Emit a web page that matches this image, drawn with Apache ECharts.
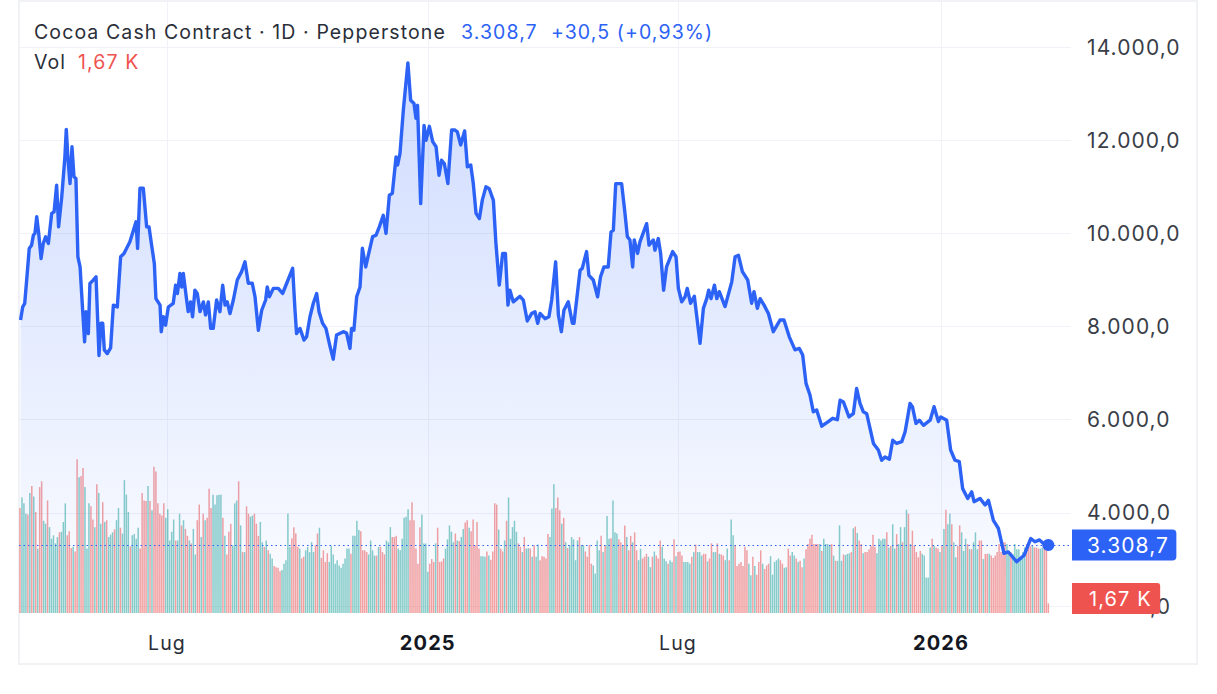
<!DOCTYPE html>
<html>
<head>
<meta charset="utf-8">
<title>Cocoa Cash Contract</title>
<script src="https://cdn.jsdelivr.net/npm/echarts@6/dist/echarts.min.js"></script>
<style>
  html, body { margin: 0; padding: 0; background: #fff; }
  #chart { width: 1217px; height: 694px; }
  /* the reference font is tracked wider than anything installed */
  #chart text { letter-spacing: 1.1px; }
</style>
</head>
<body>
<div id="chart"></div>
<script>
// x is the trading session number, 0 = first bar of the history
const lineSessions = [
  0.3,1.4,2.4,3.4,4.7,5.9,6.8,7.6,8.5,9.5,10.7,11.8,13,14.4,16.1,17.3,18.6,19.6,21.2,22.8,23.5,24.4,25.4,26.4,27.4,28.4,29.4,30.5,31.8,32.8,
  33.5,34.7,35.5,37.2,38.6,40.1,41.1,42,42.8,44.3,46,47.4,49.4,51.1,52.8,55.8,58.9,59.7,60.9,62.6,64.3,65.5,66.8,68.2,69,71.1,71.7,72.8,73.9,75.3,
  77.8,79,79.9,81.2,82.1,82.9,84.6,85.4,86.6,87.6,88.8,90,91.4,93.1,94.2,95.6,96.8,98.1,99.8,101.5,102.9,104.1,105.2,106.6,108.3,110.3,112.5,114.2,115.9,117.9,
  119.3,121,122.7,124.7,125.5,126.6,128.6,131.1,133.3,135.4,138.4,139.6,140.4,142.1,144.2,145.5,147.2,148.9,150.6,151.8,153.6,155.3,157.4,159,160.7,164.1,165.8,167.5,168.3,169.5,
  170.9,172.6,173.8,175.5,176.8,179,180.7,182.4,184.4,185.8,187.5,189,190.9,191.7,192.9,194.6,196.9,198.3,200,201,201.8,203.4,205.1,206.1,207.8,209.5,211.2,212.7,214,215.4,
  217.2,219.1,220.8,222,223.7,225.7,227.1,228.8,230.1,231.5,233.2,234.7,236.5,238.2,240.3,241.6,243.3,245,246.4,247.7,248.7,250.4,253.8,255.5,257.5,259.7,261.4,262.8,264,266.5,
  268.5,269.9,271.9,273.3,274.8,276.1,278.3,280.4,281.2,284.3,285.4,287.6,288.8,291,293.2,294.7,296.4,298.6,300,301.2,302.4,305.4,307.1,308.3,309.6,311,311.8,313.5,314.7,318.1,
  319.3,321.5,322.3,324,325.2,326.7,328.2,331.3,333,334.2,335.9,337.6,338.7,340.4,342.3,345.2,346.9,348.6,349.6,350.8,352.5,353.7,355,357.9,361.3,363,364.7,366.7,369.4,371.4,
  372.6,374.3,375.7,377.7,379.9,382.4,385.8,387.8,390.5,393.4,395.6,397.3,399,401,402.7,404.4,407,410.3,412.5,414.9,416.3,418,420.8,423,424.7,426.4,428.1,429.8,433.2,435.7,
  437.4,439.1,441.3,443,445,447.6,449.3,451.8,453,454.8,456.5,458.6,462,464,466.2,467.4,470.4,472.4,474.6,476.8,478.5,481.1,483.1,484.3,487.3,489.9,491.6,494.1,496.6,499.5,
  501.7,505.9,509.7,513.1,515.2,517.5,520.3,522
];
const linePrices = [
  8140,8425,8496,9000,9677,9748,9963,10000,10357,10000,9462,9784,9927,9784,10429,10464,11037,10142,10786,11645,12232,11574,11073,11860,11216,11180,9498,9283,8353,7673,
  8317,7852,8925,8997,9068,7380,8070,8070,7500,7420,7540,8460,8420,9500,9570,9820,10250,9680,10970,10970,10140,10140,9750,9350,8600,8460,7890,8210,8030,8420,
  8500,8890,8710,9140,8850,9140,8570,8320,8530,8210,8780,8710,8320,8530,8250,8530,7960,7960,8570,8320,8890,8460,8530,8280,8570,9000,9180,9390,8930,8930,
  8640,7920,8350,8570,8850,8640,8820,8820,8710,8930,9250,8350,7850,7960,7710,7780,8210,8500,8710,8320,8070,7960,7570,7300,7820,7890,7860,7530,7960,7920,
  8640,8850,9680,9280,9530,9930,9960,10140,10390,10000,10820,10860,11640,11470,11720,12650,13660,12860,12790,12470,12750,10640,12320,12000,12300,11970,11860,11250,11570,11500,
  11070,12220,12220,12180,11900,12200,11430,11470,11070,10430,10320,10720,11000,10960,10710,9780,8890,9570,9570,8460,8780,8530,8650,8570,8120,8280,8320,8070,8280,8170,
  8210,8570,9390,8250,7890,8350,8530,8070,8070,9210,9250,9610,9100,9000,8640,9070,9280,9280,10030,10070,11070,11070,10430,9930,9860,9280,9860,9570,9820,10210,
  9750,9860,9640,9890,9570,8780,9280,9610,9500,8820,8530,8640,8820,8500,8650,7640,8390,8600,8780,8600,8890,8600,8750,8430,8960,9500,9530,9180,9000,8500,
  8750,8390,8600,8460,8280,7890,8140,8140,7780,7500,7530,7390,6780,6530,6170,6210,5860,5960,6030,6000,6420,6380,6060,6130,6670,6350,6170,6130,5490,5350,
  5130,5200,5150,5560,5490,5530,5740,6350,6280,5920,5990,5880,5990,6280,5960,6060,5990,5350,5130,5100,4520,4310,4450,4240,4310,4170,4270,3840,3670,3130,
  3160,2950,3090,3450,3380,3420,3310,3308.7
];
// volume in thousands, one value per session
const volumes = [
  18.1,19.9,18.9,17.1,17,20.7,21.9,20.1,17.4,11.1, 21.7,22.7,15.9,15.4,19.4,14.8,12.8,13.4,12,13.1,
  13.9,14,15.7,18.9,13.4,14.1,11.2,11.4,10.6,26.5, 23.4,23.6,25,21.7,11.1,18.9,18.4,16.1,14.8,22.2,
  20.7,15.4,19.1,15.7,16,13.1,13.5,13.9,14.4,16, 18.1,14.7,13.7,22.9,20.4,17.4,11.5,13.4,13.6,12.8,
  14.7,11.1,20.7,19.4,19.3,21.9,19.3,17.7,25.2,24.4, 18.9,17.1,16.8,18.9,16.4,17.9,12.5,14,16.1,12.5,
  12.5,17.1,15.1,16,14.5,13.3,12.5,12,14.5,10.1, 16,18.7,13.1,17.1,16,16.4,21.4,18.1,20.4,18.7,
  20.3,20.4,20.4,16.4,13.3,10.1,14,15.4,11.7,18.9, 19.4,22.7,15.1,10.5,10.5,18.4,17.1,16.6,16.8,17.1,
  15.4,13.3,15.7,12.2,11.4,12.5,10.8,10.2,9.4,8.1, 7.9,7.8,7.2,7.4,8.5,9.1,17.1,11.4,12.9,14.8,
  13.7,11.4,11.1,9.4,9.7,10.8,11.4,10.5,12.2,10.5, 11.7,13.7,14.7,9.5,10.8,8.8,10.3,8.8,11.6,10.1,
  8.5,9.1,8.2,7.8,8.5,9.4,11.1,11.1,10.2,13.3, 13.3,15.9,14.3,14.1,10.8,10.8,10.5,10.1,12.5,10.8,
  9.9,9.9,11.4,11.4,10.5,10.1,12.5,12.2,14.8,13.1, 13.1,13.3,11.1,
  10.8,12.8,16.4,16.6,17.9,16,19.1,16,11.1,8.5, 14.8,17,12,12,7.1,8.5,9.3,8.8,12,14.7,
  8.8,8.9,9.4,11.1,12.7,15.1,14,12.2,13.7,12.5, 12.4,13.1,14.5,15.6,16,14.7,14.1,16.1,11.7,15.7,
  11.1,9.8,9.8,9.7,10.6,9.9,9.2,10.6,18.9,18.7, 14.4,11.1,10.6,12.5,15.9,19.9,12.8,14.8,15.9,14,
  12,11.4,10.5,13.1,11.1,11.2,11.1,9.7,11.7,9.7, 11.8,9.1,9.8,9.7,9.4,13.6,13.1,18,22.2,18.1,
  19.9,17.7,15.4,16.4,12.2,11.2,11.7,13.1,12.7,9.1, 12.5,13.1,11.7,11.7,10.6,9.7,11.7,8.5,8.2,6.8,
  12.5,10.8,13.3,10.5,11.7,16.7,12.8,12.9,19.4,13.9, 13.7,12.7,12.2,11.7,15.1,13.1,10.8,13.3,12.2,13.9,
  10.8,9.1,11.1,9.4,9.7,10.2,9.7,7.9,9.7,10.6, 9.9,9.4,12.5,11.4,9.4,8.9,8.5,9.1,8.8,12.7,
  9.8,10.5,10.6,9.9,8.8,8.8,8.8,8.5,9.7,10.5, 11.8,10.5,10.5,9.9,10.2,10.2,8.9,9.4,12,10.5,
  10.5,12,10.2,10.1,9.9,9.1,11.1,9.1,16.1,13.4, 11.7,8.1,8.5,8.8,8.1,11.4,10.8,8.5,6.5,9.7,
  8.1,6.6,8.8,10.8,8.5,7.6,8.2,8.5,9.8,6.6, 8.8,9.1,9.4,9.1,8.5,7.8,7.9,11.1,9.9,10.5,
  9.9,9.4,8.8,
  9,7.9,9.4,11,11.9,12.8,13.5,11.9,11.9,11.9, 11.9,10.7,12.8,11.9,11.9,11.6,11.9,9.9,9,9,
  15.1,9,10.1,10,10.2,10.3,10.5,14.6,14.9,13.8, 12.5,11.9,10.3,10.5,10.5,11,11.6,13.5,11.4,10.3,
  12.8,12.5,12.8,12.8,13.9,11.3,11.6,15.3,11.1,13.6, 11.9,14.8,12.2,14.8,17.8,17.1,11.9,14.2,11.6,10.5,
  9.6,10.7,10.2,9.9,6.1,6.1,11.3,12.8,11.6,11.3, 11.1,10.5,11.6,14.5,17.8,15.3,17.1,15.3,12.2,9.6,
  11.6,15.1,13.9,10.7,12.8,11.9,11,11,12.2,13.9, 11,12.5,12.5,9.3,10.2,10.2,10.2,9.9,9.5,9.9,
  10.5,11.9,10.5,12.2,12.2,11.9,10.7,10.5,10.2,11.9, 11,11,9.6,10.5,11.3,11.9,11.6,11.5,11.6,11.3,
  11.3,11.1,11.1,11.3,11.6,11.3,1.67
];
// u = session closed up, d = session closed down, same order as volumes
const volumeSides = [
  'duuudududu','dduuduuuuu','duuudddudd','udduuuddud','uududuuudu','uduuuuduuu','uddddududd','dddduuuuud',
  'uududduduu','ddududdduu','uuududdduu','udududduud','dduududuud','ddduuuuudd','ddudduuuuu','dduddddu' + 'uu',
  'uuuuuuuudu','uuudddduuu','ududdduuud','ddu',
  'uuuuuddddd','duuuudddud','ddduuuuudu','duuddudddd','duuududddd','uddud' + 'uuuuu','dduduududu','uddddduuud',
  'ddududuuuu','uduudddduu','uududuuduu','uddududdud','duuddduudu','ddduuuduud','uddduuuudu','duuudduddu',
  'ududduuduu','ddddddduud','udddudddu' + 'u','uuudduuddu','udu',
  'ddu' + 'ddddddd','uduuuududu','uuduuududu','dduddddddu','uuuududuud','uuduududdd','dduuuuudud','dududuuduu',
  'dduuududuu','uddudduddd','ddddduuduu','uuuuudddud','dduuddd'
].join('');

const priceTicks = [2000, 4000, 6000, 8000, 10000, 12000, 14000];
const priceTickLabels = ['2.000,0', '4.000,0', '6.000,0', '8.000,0', '10.000,0', '12.000,0', '14.000,0'];
const sessionTicks = [74.6, 207, 334, 467.5];
const sessionTickLabels = ['Lug', '2025', 'Lug', '2026'];
const yearLabels = ['2025', '2026'];

const lastPrice = 3308.7;
const lastPriceLabel = '3.308,7';
const lastChangeLabel = '+30,5 (+0,93%)';
const lastVolumeLabel = '1,67 K';

const FONT = 'Inter, "Noto Sans", sans-serif';
const GRID_LINE = '#f0f2f7';
const BLUE = '#2c62f5';
const RED = '#ef5350';

const chart = echarts.init(document.getElementById('chart'), null, { renderer: 'svg' });

const headerText = (text, left, top, color) => ({
  text: text,
  left: left,
  top: top,
  padding: 0,
  textStyle: { color: color, fontFamily: FONT, fontSize: 19.5, fontWeight: 400, lineHeight: 24 }
});

chart.setOption({
  backgroundColor: '#fff',
  animation: false,
  title: [
    headerText('Cocoa Cash Contract · 1D · Pepperstone', 34, 20, '#2a2e39'),
    headerText(lastPriceLabel + '  ' + lastChangeLabel, 461, 20, BLUE),
    headerText('Vol', 34, 50, '#2a2e39'),
    headerText(lastVolumeLabel, 78, 50, RED),
    {
      text: lastVolumeLabel,
      left: 1072,
      top: 583,
      backgroundColor: RED,
      borderRadius: [0, 3, 3, 0],
      padding: [4, 15, 3, 17],
      z: 20,
      textStyle: { color: '#fff', fontFamily: FONT, fontSize: 20, fontWeight: 400, lineHeight: 24 }
    }
  ],
  graphic: [{
    type: 'rect',
    silent: true,
    z: -1,
    shape: { x: 19, y: 1, width: 1178, height: 663 },
    style: { fill: 'none', stroke: '#f1f2f5', lineWidth: 2 }
  }],
  grid: { left: 19, right: 146, top: 1, bottom: 81 },
  xAxis: {
    type: 'value',
    min: -0.5,
    max: 533.5,
    axisLine: { show: false },
    axisTick: { show: false, customValues: sessionTicks },
    splitLine: { show: true, lineStyle: { color: GRID_LINE, width: 1 } },
    axisLabel: {
      customValues: sessionTicks,
      margin: 20,
      color: '#2a2e39',
      fontFamily: FONT,
      fontSize: 19.5,
      formatter: (value) => {
        const label = sessionTickLabels[sessionTicks.indexOf(value)];
        return yearLabels.includes(label) ? '{year|' + label + '}' : label;
      },
      rich: { year: { fontFamily: FONT, fontSize: 20, fontWeight: 700, color: '#131722' } }
    }
  },
  yAxis: [
    {
      type: 'value',
      position: 'right',
      min: 1850,
      max: 14990,
      axisLine: { show: false },
      axisTick: { show: false, customValues: priceTicks },
      splitLine: { show: true, lineStyle: { color: GRID_LINE, width: 1 } },
      axisLabel: {
        customValues: priceTicks,
        margin: 16,
        color: '#3a3e48',
        fontFamily: FONT,
        fontSize: 21,
        formatter: (value) => priceTickLabels[priceTicks.indexOf(value)]
      }
    },
    { type: 'value', min: 0, max: 105.5, show: false, splitLine: { show: false } }
  ],
  series: [
    {
      name: 'Vol',
      type: 'bar',
      yAxisIndex: 1,
      barWidth: 1.5,
      silent: true,
      data: volumes.map((v, i) => [i, v]),
      itemStyle: {
        color: (p) => (volumeSides[p.dataIndex] === 'u' ? 'rgba(38,166,154,0.55)' : 'rgba(239,83,80,0.55)')
      }
    },
    {
      name: 'Cocoa Cash Contract',
      type: 'line',
      data: lineSessions.map((s, i) => [s, linePrices[i]]),
      showSymbol: false,
      z: 5,
      lineStyle: { color: BLUE, width: 3.4, join: 'round' },
      areaStyle: {
        origin: 'start',
        color: new echarts.graphic.LinearGradient(0, 0, 0, 1, [
          { offset: 0, color: 'rgba(41,98,255,0.32)' },
          { offset: 1, color: 'rgba(41,98,255,0.02)' }
        ])
      },
      markLine: {
        silent: true,
        symbol: 'none',
        animation: false,
        data: [{ yAxis: lastPrice }],
        lineStyle: { color: BLUE, type: [1.5, 3], width: 1.2 },
        label: {
          position: 'end',
          distance: 1,
          formatter: lastPriceLabel,
          color: '#fff',
          fontFamily: FONT,
          fontSize: 21,
          lineHeight: 24,
          backgroundColor: BLUE,
          borderRadius: [0, 4, 4, 0],
          padding: [4, 15, 3, 15]
        }
      },
      markPoint: {
        silent: true,
        symbol: 'circle',
        symbolSize: 12,
        itemStyle: { color: BLUE },
        label: { show: false },
        data: [{ coord: [lineSessions[lineSessions.length - 1], lastPrice] }]
      }
    }
  ]
});
</script>
</body>
</html>
